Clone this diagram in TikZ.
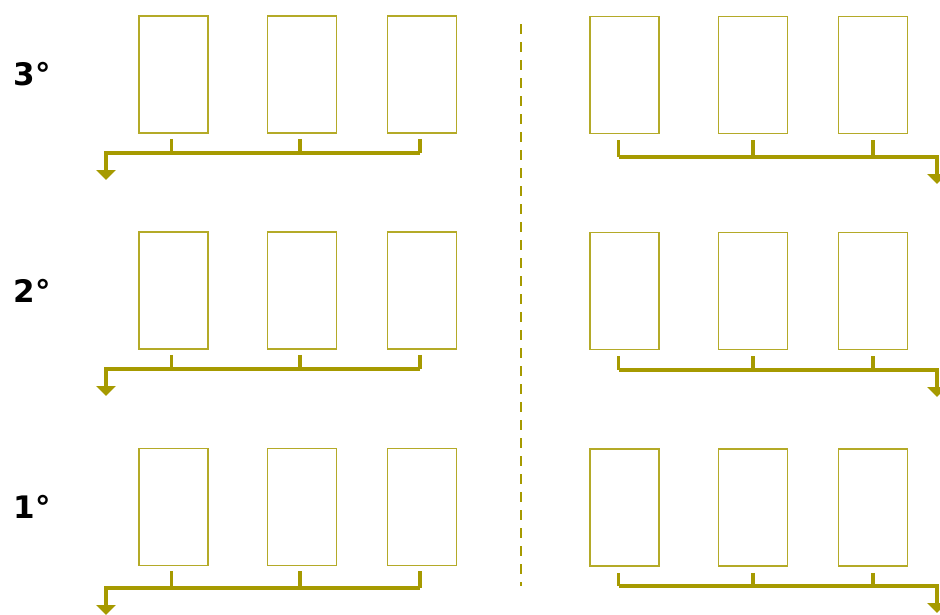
\documentclass[tikz,border=0pt]{standalone}
\usepackage{fontspec}
\setsansfont{DejaVu Sans}
\usetikzlibrary{arrows.meta, positioning}
\definecolor{OL}{RGB}{166,154,0}
\definecolor{OLL}{RGB}{180,170,40}

\begin{document}
\begin{tikzpicture}[x=1pt, y=-1pt,
  shelf/.style={draw=OLL, line width=1.7pt, minimum width=69pt, minimum height=117pt,
                inner sep=0pt},
  feed/.style={draw=OL, line width=3.2pt},
  drain/.style={feed, -{Triangle[length=10pt, width=19pt]}},
  floor/.style={font=\sffamily\bfseries\fontsize{31}{36}\selectfont, text=black},
  divider/.style={draw=OL, line width=2.2pt, dash pattern=on 10pt off 8pt}
]
\useasboundingbox (0,0) rectangle (940,614);

% three levels, left and right wing
\foreach \r/\y/\bus/\rbus/\lbl in {3/74.5/153/157/3°, 2/290.5/369/370/2°, 1/507/588/586/1°}{
  \node[floor] (lv\r) at (32,\y) {\lbl};

  \node[shelf] (la\r) at (173.5,\y) {};
  \node[shelf] (lb\r) at (302,\y) {};
  \node[shelf] (lc\r) at (422,\y) {};
  \node[shelf] (ra\r) at (624.5,\y+0.5) {};
  \node[shelf] (rb\r) at (753,\y+0.5) {};
  \node[shelf] (rc\r) at (873,\y+0.5) {};

  \coordinate (lout\r) at (106,\bus);
  \coordinate (rout\r) at (937,\rbus);

  % left collector
  \foreach \b in {la,lb,lc}
    \draw[feed] ([xshift=-2pt, yshift=-5pt]\b\r.south) -- ([xshift=-2pt]\b\r.south |- lout\r);
  \draw[drain] ([xshift=-2pt]lc\r.south |- lout\r) -- (lout\r) -- ++(0,27);

  % right collector
  \draw[feed] ([xshift=-6pt, yshift=-6pt]ra\r.south) -- ([xshift=-6pt]ra\r.south |- rout\r);
  \foreach \b in {rb,rc}
    \draw[feed] ([yshift=-6pt]\b\r.south) -- (\b\r.south |- rout\r);
  \draw[drain] ([xshift=-6pt]ra\r.south |- rout\r) -- (rout\r) -- ++(0,27);
}

\coordinate (divtop) at (521,24);
\coordinate (divbot) at (521,586);
\draw[divider] (divtop) -- (divbot);
\end{tikzpicture}
\end{document}
